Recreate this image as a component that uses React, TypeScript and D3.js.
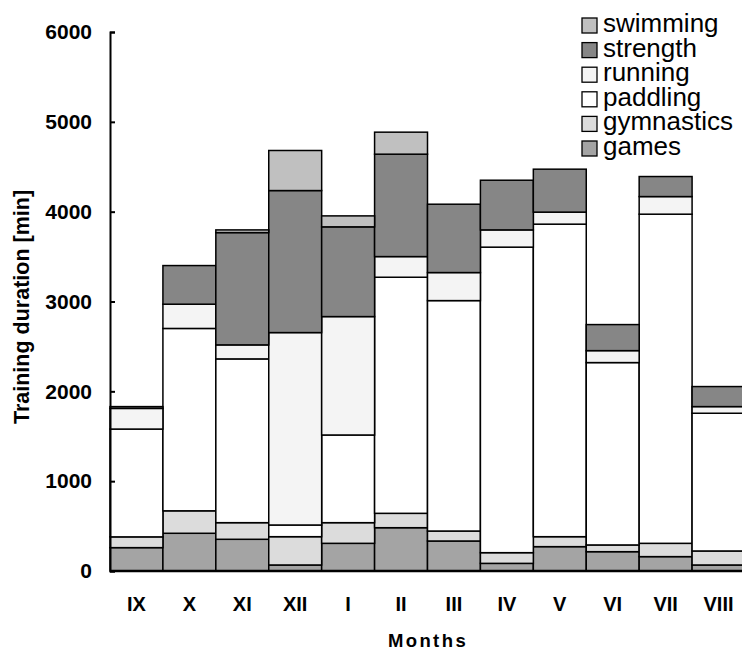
import React, { useEffect, useRef } from 'react';
import * as d3 from 'd3';

// months of the training year
const months = ['IX', 'X', 'XI', 'XII', 'I', 'II', 'III', 'IV', 'V', 'VI', 'VII', 'VIII'];

// minutes per activity, per month
const games = [260, 420, 353, 67, 308, 482, 334, 85, 271, 215, 160, 67];
const gymnastics = [120, 250, 185, 315, 230, 160, 111, 119, 111, 75, 148, 156];
const paddling = [1200, 2030, 1823, 130, 976, 2628, 2565, 3401, 3479, 2030, 3664, 1533];
const running = [230, 270, 156, 2142, 1318, 230, 312, 192, 134, 133, 196, 74];
const strength = [20, 430, 1250, 1581, 999, 1140, 761, 553, 478, 290, 223, 223];
const swimming = [0, 0, 30, 446, 122, 245, 0, 0, 0, 0, 0, 0];

const yTicks = [0, 1000, 2000, 3000, 4000, 5000, 6000];

const keys = ['games', 'gymnastics', 'paddling', 'running', 'strength', 'swimming'];
const colors: Record<string, string> = {
    games: '#a4a4a4',
    gymnastics: '#dcdcdc',
    paddling: '#ffffff',
    running: '#f4f4f4',
    strength: '#868686',
    swimming: '#c0c0c0'
};

export default function App() {
    const ref = useRef<SVGSVGElement>(null);

    useEffect(() => {
        const width = 742, height = 650;
        const margin = { top: 32, right: -3, bottom: 79, left: 110 };
        const svg = d3.select(ref.current);
        svg.selectAll('*').remove();

        const rows = months.map((m, i) => ({
            month: m,
            games: games[i],
            gymnastics: gymnastics[i],
            paddling: paddling[i],
            running: running[i],
            strength: strength[i],
            swimming: swimming[i]
        }));

        const x = d3.scaleBand()
            .domain(months)
            .range([margin.left, width - margin.right])
            .padding(0);
        const y = d3.scaleLinear()
            .domain([0, 6000])
            .range([height - margin.bottom, margin.top]);

        const series = d3.stack<any>().keys(keys)(rows);

        // bars
        svg.append('g')
            .selectAll('g')
            .data(series)
            .join('g')
            .attr('fill', d => colors[d.key])
            .selectAll('rect')
            .data(d => d)
            .join('rect')
            .attr('x', d => x(d.data.month)!)
            .attr('width', x.bandwidth())
            .attr('y', d => y(d[1]))
            .attr('height', d => y(d[0]) - y(d[1]))
            .attr('stroke', '#000')
            .attr('stroke-width', 1.5);

        // y axis
        const yAxis = d3.axisLeft(y)
            .tickValues(yTicks)
            .tickFormat(d3.format('d'))
            .tickSizeInner(-5)
            .tickSizeOuter(-5)
            .tickPadding(18);
        const gy = svg.append('g')
            .attr('transform', 'translate(' + margin.left + ',0)')
            .call(yAxis);
        gy.select('.domain').attr('stroke', '#000').attr('stroke-width', 2);
        gy.selectAll('.tick line').attr('stroke', '#000').attr('stroke-width', 2);
        gy.selectAll('.tick text')
            .attr('font-family', 'Liberation Sans, Arial, sans-serif')
            .attr('font-weight', 'bold')
            .attr('font-size', 21)
            .attr('fill', '#000');

        // x axis line
        svg.append('line')
            .attr('x1', margin.left)
            .attr('x2', width)
            .attr('y1', y(0))
            .attr('y2', y(0))
            .attr('stroke', '#000')
            .attr('stroke-width', 2.5);

        // month labels
        svg.append('g')
            .selectAll('text')
            .data(months)
            .join('text')
            .attr('x', d => x(d)! + x.bandwidth() / 2)
            .attr('y', 611)
            .attr('text-anchor', 'middle')
            .attr('font-family', 'Liberation Sans, Arial, sans-serif')
            .attr('font-weight', 'bold')
            .attr('font-size', 20)
            .text(d => d);

        // axis titles
        svg.append('text')
            .attr('x', 428)
            .attr('y', 647)
            .attr('text-anchor', 'middle')
            .attr('font-family', 'Liberation Sans, Arial, sans-serif')
            .attr('font-weight', 'bold')
            .attr('font-size', 18.5)
            .attr('letter-spacing', 2.4)
            .text('Months');

        svg.append('text')
            .attr('transform', 'translate(29,307) rotate(-90)')
            .attr('text-anchor', 'middle')
            .attr('font-family', 'Liberation Sans, Arial, sans-serif')
            .attr('font-weight', 'bold')
            .attr('font-size', 21.5)
            .text('Training duration [min]');

        // legend, top item first
        const legend = svg.append('g')
            .selectAll('g')
            .data(keys.slice().reverse())
            .join('g')
            .attr('transform', (d, i) => 'translate(582,' + (18 + i * 24.6) + ')');
        legend.append('rect')
            .attr('width', 15)
            .attr('height', 15)
            .attr('fill', d => colors[d])
            .attr('stroke', '#000')
            .attr('stroke-width', 1.3);
        legend.append('text')
            .attr('x', 21)
            .attr('y', 14)
            .attr('font-family', 'Liberation Sans, Arial, sans-serif')
            .attr('font-size', 26)
            .text(d => d);
    }, []);

    return (
        <svg ref={ref} width={742} height={650}
            style={{ position: 'absolute', left: 0, top: 0, background: '#fff' }} />
    );
}
